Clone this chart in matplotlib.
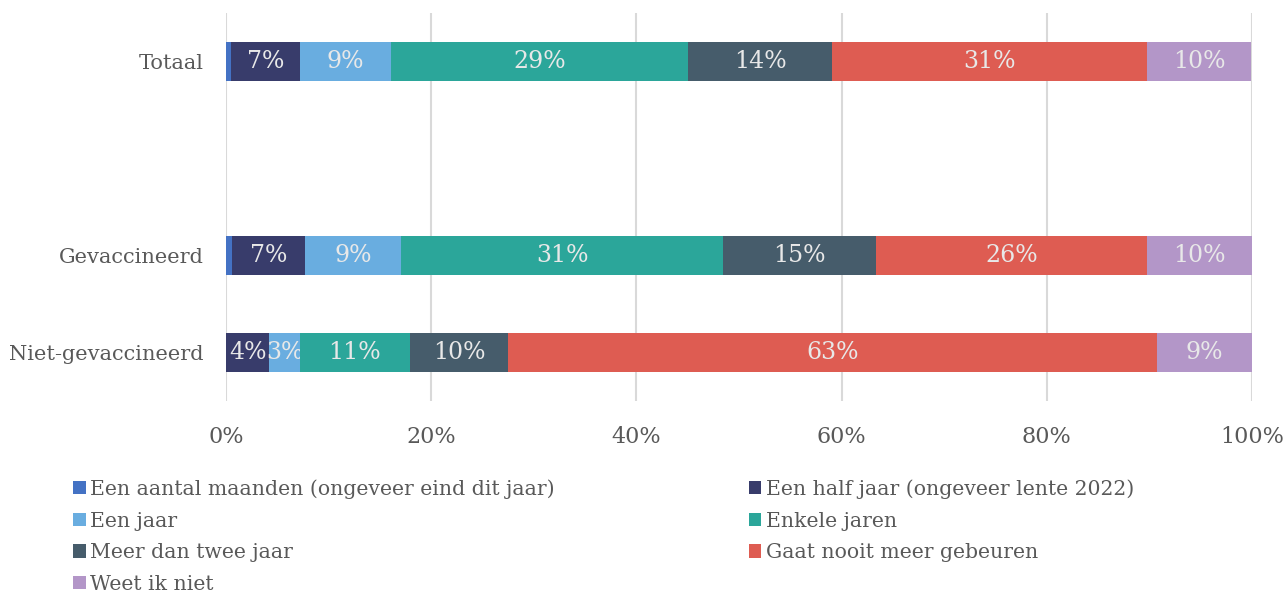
import numpy as np
import matplotlib
matplotlib.use('Agg')
import matplotlib.pyplot as plt

plt.rcParams['font.family'] = ['DejaVu Serif']

# categorieen (lege rij tussen Totaal en de rest)
groepen = ['Totaal', '', 'Gevaccineerd', 'Niet-gevaccineerd']
antwoorden = ['Een aantal maanden (ongeveer eind dit jaar)',
              'Een half jaar (ongeveer lente 2022)',
              'Een jaar',
              'Enkele jaren',
              'Meer dan twee jaar',
              'Gaat nooit meer gebeuren',
              'Weet ik niet']
kleuren = ['#4472C4', '#383C6B', '#69ADE0', '#2BA69A', '#465C6B', '#DE5C52', '#B396C8']

# percentages per groep (Totaal, leeg, Gevaccineerd, Niet-gevaccineerd)
maanden   = [0.5, 0, 0.6, 0.0]
half_jaar = [6.7, 0, 7.1, 4.2]
een_jaar  = [8.9, 0, 9.4, 3.0]
enkele    = [28.9, 0, 31.3, 10.7]
meer_twee = [14.1, 0, 15.0, 9.6]
nooit     = [30.7, 0, 26.4, 63.2]
weet_niet = [10.1, 0, 10.2, 9.3]
reeksen = [maanden, half_jaar, een_jaar, enkele, meer_twee, nooit, weet_niet]

fig = plt.figure(figsize=(12.87, 5.95), dpi=100)
ax = fig.add_axes([0.1756, 0.326, 0.7972, 0.652])

y = np.arange(len(groepen))
links = np.zeros(len(groepen))
handles = []
for naam, waarden, kleur in zip(antwoorden, reeksen, kleuren):
    w = np.array(waarden, dtype=float)
    bars = ax.barh(y, w, left=links, height=0.4, color=kleur, label=naam, zorder=3)
    labels = ['%d%%' % round(v) if v >= 2 else '' for v in w]
    ax.bar_label(bars, labels=labels, label_type='center', color='#E8E8E8', fontsize=17)
    handles.append(bars)
    links += w

ax.set_xlim(0, 100)
ax.set_ylim(3.5, -0.5)
ax.set_xticks(np.arange(0, 101, 20))
ax.set_xticklabels(['%d%%' % t for t in range(0, 101, 20)])
ax.set_yticks(y)
ax.set_yticklabels(groepen)
ax.tick_params(length=0, labelcolor='#595959')
ax.tick_params(axis='y', labelsize=15, pad=16)
ax.tick_params(axis='x', labelsize=16, pad=18)
ax.grid(axis='x', color='#D9D9D9', linewidth=1.5, zorder=0)
for s in ax.spines.values():
    s.set_visible(False)

volgorde = [0, 2, 4, 6, 1, 3, 5]
leg = fig.legend([handles[i] for i in volgorde], [antwoorden[i] for i in volgorde],
                 ncol=2, loc='upper left', bbox_to_anchor=(0.0425, 0.2255),
                 frameon=False, fontsize=14.7, handlelength=0.62, handleheight=0.62,
                 handletextpad=0.22, columnspacing=9.5, labelspacing=0.62)
for t in leg.get_texts():
    t.set_color('#595959')

plt.savefig('out.png', dpi=100)
